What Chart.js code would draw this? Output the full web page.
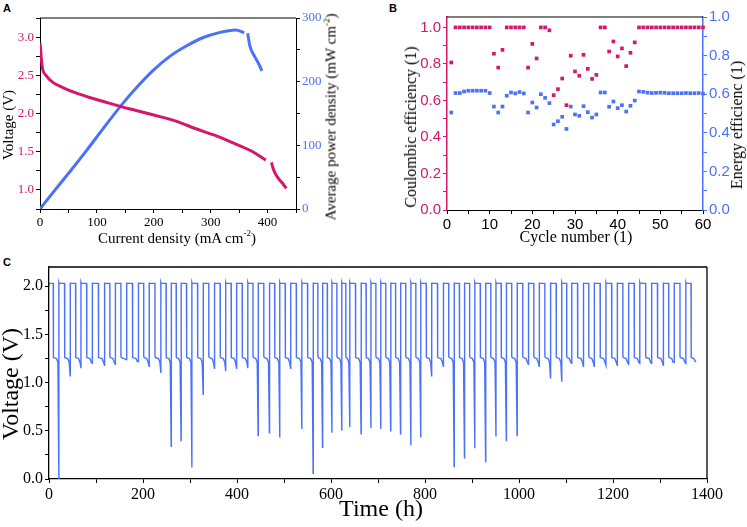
<!DOCTYPE html>
<html lang="en">
<head>
<meta charset="UTF-8">
<title>Cell performance</title>
<script src="https://cdn.jsdelivr.net/npm/chart.js"></script>
<style>
  body { margin: 0; background: #fff; width: 747px; height: 527px; position: relative; overflow: hidden;
         font-family: "Liberation Serif", "Times New Roman", serif; }
  .panel { position: absolute; }
  .lbl { position: absolute; font-family: "Liberation Sans", Arial, sans-serif; font-weight: bold; font-size: 11px; }
  .ttl { position: absolute; white-space: nowrap; color: #000; transform: translate(-50%, -50%); line-height: 1; }
  .rot { transform: translate(-50%, -50%) rotate(-90deg); }
  sup { font-size: 0.6em; line-height: 0; vertical-align: 0.7em; }
</style>
</head>
<body>
  <!-- Panel labels -->
  <div class="lbl" style="left:3px;top:2px">A</div>
  <div class="lbl" style="left:389px;top:2px">B</div>
  <div class="lbl" style="left:3px;top:256px">C</div>

  <!-- Chart containers -->
  <div class="panel" style="left:0;top:0;width:370px;height:255px"><canvas id="chartA"></canvas></div>
  <div class="panel" style="left:370px;top:0;width:377px;height:255px"><canvas id="chartB"></canvas></div>
  <div class="panel" style="left:0;top:255px;width:747px;height:272px"><canvas id="chartC"></canvas></div>

  <!-- Axis titles -->
  <div class="ttl rot" style="left:8px;top:125px;font-size:15px">Voltage (V)</div>
  <div class="ttl rot" style="left:331px;top:117px;font-size:15px">Average power density (mW cm<sup>-2</sup>)</div>
  <div class="ttl" style="left:177px;top:238px;font-size:15px">Current density (mA cm<sup>-2</sup>)</div>
  <div class="ttl rot" style="left:411px;top:127px;font-size:16px">Coulombic efficiency (1)</div>
  <div class="ttl rot" style="left:737px;top:125px;font-size:16px">Energy efficienc (1)</div>
  <div class="ttl" style="left:576px;top:237px;font-size:16px">Cycle number (1)</div>
  <div class="ttl rot" style="left:10px;top:384px;font-size:24px">Voltage (V)</div>
  <div class="ttl" style="left:381px;top:508px;font-size:24px">Time (h)</div>

<script>
// ---- Panel A: polarisation curve (null = gap in the trace)
const voltI = [0, 1, 2, 4.7, 10.5, 22, 40, 63, 87, 110, 142, 169, 200, 239, 274, 309, 344, 374, 397, 402, 407, 409, 412, 418, 426, 433];
const voltV = [2.92, 2.85, 2.74, 2.58, 2.50, 2.41, 2.34, 2.27, 2.21, 2.16, 2.09, 2.04, 1.98, 1.90, 1.80, 1.71, 1.60, 1.50, 1.39, null, 1.36, 1.30, 1.24, 1.16, 1.09, 1.02];
const powI = [0, 22, 51, 81, 110, 142, 169, 198, 227, 257, 286, 315, 344, 359, 362, 365, 369, 377, 385, 390];
const powP = [0, 25, 57, 91, 125, 162, 190, 217, 239, 256, 269, 277, 281, 277, null, 276, 256, 240, 227, 217];
const aXLabels = [0, 100, 200, 300, 400];
const aVLabels = [1.0, 1.5, 2.0, 2.5, 3.0];
const aPLabels = [0, 100, 200, 300];

// ---- Panel B: efficiencies per cycle
const cycles = [];
for (let c = 1; c <= 60; c++) cycles.push(c);
const coulombic = [0.808, 1, 1, 1, 1, 1, 1, 1, 1, 1,
  0.856, 0.78, 0.877, 1, 1, 1, 1, 1, 0.78, 0.91,
  0.83, 1, 1, 0.984, 0.629, 0.662, 0.72, 0.574, 0.845, 0.759,
  0.735, 0.85, 0.773, 0.718, 0.74, 1, 1, 0.868, 0.923, 0.841,
  0.885, 0.788, 0.861, 0.918, 1, 1, 1, 1, 1, 1,
  1, 1, 1, 1, 1, 1, 1, 1, 1, 1];
const energy = [0.505, 0.606, 0.606, 0.614, 0.618, 0.618, 0.618, 0.618, 0.618, 0.606,
  0.536, 0.505, 0.536, 0.592, 0.609, 0.604, 0.611, 0.604, 0.505, 0.557,
  0.531, 0.600, 0.581, 0.554, 0.443, 0.460, 0.483, 0.420, 0.536, 0.495,
  0.488, 0.538, 0.507, 0.479, 0.495, 0.609, 0.609, 0.535, 0.562, 0.528,
  0.543, 0.510, 0.540, 0.567, 0.614, 0.612, 0.608, 0.606, 0.607, 0.608,
  0.607, 0.605, 0.605, 0.605, 0.605, 0.606, 0.605, 0.605, 0.606, 0.603];
const bXLabels = [0, 10, 20, 30, 40, 50, 60];
const bYLabels = [0, 0.2, 0.4, 0.6, 0.8, 1.0];

// ---- Panel C: cycling, end time (h) and end-of-discharge voltage of each cycle
const cycleEnd = [21, 45, 68, 92, 118, 141, 165, 190, 213, 238,
  260, 281, 304, 328, 352, 376, 399, 423, 445, 469,
  491, 514, 538, 562, 582, 602, 623, 640, 664, 685,
  706, 727, 748, 770, 791, 814, 839, 862, 884, 906,
  929, 951, 973, 996, 1020, 1043, 1067, 1091, 1112, 1137,
  1160, 1185, 1209, 1233, 1257, 1282, 1307, 1330, 1355, 1377];
const cycleMinV = [0.00, 1.07, 1.15, 1.20, 1.18, 1.19, 1.24, 1.22, 1.17, 1.10,
  0.34, 0.40, 0.12, 0.88, 1.15, 1.12, 1.15, 1.15, 0.45, 0.48,
  0.43, 1.15, 0.52, 0.06, 0.33, 0.48, 0.50, 0.54, 0.47, 0.53,
  0.52, 0.50, 0.47, 0.35, 0.43, 1.07, 1.17, 0.13, 0.22, 0.32,
  0.18, 0.44, 0.40, 0.45, 1.19, 1.17, 1.05, 1.01, 1.20, 1.17,
  1.17, 1.18, 1.18, 1.19, 1.20, 1.20, 1.18, 1.21, 1.20, 1.22];
const chargeV = 2.03;
const dischargeV = 1.28;
const cXLabels = [0, 200, 400, 600, 800, 1000, 1200, 1400];
const cYLabels = [0.0, 0.5, 1.0, 1.5, 2.0];

const MAG = '#d4166f';
const BLUE = '#4a72f7';
const SERIF = '"Liberation Serif", "Times New Roman", serif';
const SANS = '"Liberation Sans", Arial, sans-serif';

Chart.defaults.font.family = SERIF;
Chart.defaults.color = '#000';
Chart.defaults.animation = false;

// major ticks plus minor marks halfway between them
function tickList(majors, min, max) {
  const half = (majors[1] - majors[0]) / 2;
  const list = [];
  for (let v = majors[0]; v >= min - 1e-9; v -= half) list.unshift(+v.toFixed(6));
  for (let v = majors[0] + half; v <= max + 1e-9; v += half) list.push(+v.toFixed(6));
  return list;
}

function makeAxis(o) {
  const all = tickList(o.labels, o.min, o.max);
  return {
    type: 'linear',
    position: o.position,
    min: o.min,
    max: o.max,
    afterBuildTicks: s => { s.ticks = all.map(v => ({ value: v })); },
    afterFit: s => {
      if (o.width) s.width = o.width;
      if (o.height) s.height = o.height;
    },
    ticks: {
      autoSkip: false,
      maxRotation: 0,
      padding: o.pad === undefined ? 2 : o.pad,
      color: o.labelColor || '#000',
      font: { family: o.sans ? SANS : SERIF, size: o.size },
      callback: v => o.labels.some(m => Math.abs(m - v) < 1e-6) ? v.toFixed(o.dec) : ''
    },
    grid: { drawOnChartArea: false, drawTicks: true, tickLength: 4, tickColor: o.tickColor || '#000', tickWidth: 1 },
    border: { display: true, color: o.lineColor || '#000', width: o.lineWidth || 1 }
  };
}

// draws the sides of the plot box that have no axis
const framePlugin = {
  id: 'frame',
  afterDraw(chart, args, opts) {
    const { ctx, chartArea: a } = chart;
    ctx.save();
    ctx.strokeStyle = '#000';
    ctx.lineWidth = opts.width || 1;
    ctx.beginPath();
    (opts.sides || []).forEach(s => {
      if (s === 'top') { ctx.moveTo(a.left, a.top); ctx.lineTo(a.right, a.top); }
      if (s === 'right') { ctx.moveTo(a.right, a.top); ctx.lineTo(a.right, a.bottom); }
    });
    ctx.stroke();
    ctx.restore();
  }
};

const basePlugins = { legend: { display: false }, tooltip: { enabled: false } };

// Panel A
new Chart(document.getElementById('chartA'), {
  type: 'scatter',
  data: {
    datasets: [{
      data: voltI.map((x, i) => ({ x, y: voltV[i] })),
      yAxisID: 'yV', showLine: true, borderColor: MAG, borderWidth: 3, pointRadius: 0,
      spanGaps: false, cubicInterpolationMode: 'monotone'
    }, {
      data: powI.map((x, i) => ({ x, y: powP[i] })),
      yAxisID: 'yP', showLine: true, borderColor: BLUE, borderWidth: 3, pointRadius: 0,
      spanGaps: false, cubicInterpolationMode: 'monotone'
    }]
  },
  options: {
    responsive: true, maintainAspectRatio: false,
    layout: { padding: { top: 18, left: 0, right: 0, bottom: 0 } },
    scales: {
      x: makeAxis({ position: 'bottom', labels: aXLabels, min: 0, max: 450, dec: 0, size: 13, height: 46 }),
      yV: makeAxis({ position: 'left', labels: aVLabels, min: 0.75, max: 3.25, dec: 1, size: 13, width: 40, labelColor: MAG }),
      yP: makeAxis({ position: 'right', labels: aPLabels, min: 0, max: 300, dec: 0, size: 13, width: 74, labelColor: BLUE })
    },
    plugins: { ...basePlugins, frame: { sides: ['top'] } }
  },
  plugins: [framePlugin]
});

// Panel B
new Chart(document.getElementById('chartB'), {
  type: 'scatter',
  data: {
    datasets: [{
      data: cycles.map((x, i) => ({ x, y: coulombic[i] })),
      yAxisID: 'yC', pointStyle: 'rect', pointRadius: 2.6, borderWidth: 0, backgroundColor: MAG, clip: false
    }, {
      data: cycles.map((x, i) => ({ x, y: energy[i] })),
      yAxisID: 'yE', pointStyle: 'rect', pointRadius: 2.6, borderWidth: 0, backgroundColor: BLUE, clip: false
    }]
  },
  options: {
    responsive: true, maintainAspectRatio: false,
    layout: { padding: { top: 17, left: 0, right: 0, bottom: 0 } },
    scales: {
      x: makeAxis({ position: 'bottom', labels: bXLabels, min: 0, max: 60, dec: 0, size: 15, sans: true, height: 45 }),
      yC: makeAxis({ position: 'left', labels: bYLabels, min: 0, max: 1.057, dec: 1, size: 15, sans: true, width: 77,
        labelColor: MAG, tickColor: MAG, lineColor: MAG, lineWidth: 1.5 }),
      yE: makeAxis({ position: 'right', labels: bYLabels, min: 0, max: 1.0, dec: 1, size: 15, sans: true, width: 44,
        labelColor: BLUE, tickColor: BLUE, lineColor: BLUE, lineWidth: 1.5 })
    },
    plugins: { ...basePlugins, frame: { sides: ['top'] } }
  },
  plugins: [framePlugin]
});

// Panel C: each cycle = flat charge, drop to the discharge plateau, fall to its end voltage
const cPoints = [];
cycleEnd.forEach((end, i) => {
  const start = i === 0 ? 0 : cycleEnd[i - 1];
  const mid = i === 0 ? 9 : (start + end) / 2;
  const vMin = cycleMinV[i];
  cPoints.push({ x: start, y: chargeV + 0.01 }, { x: start + 0.6, y: chargeV }, { x: mid, y: chargeV });
  cPoints.push({ x: mid, y: dischargeV }, { x: mid + 0.8, y: dischargeV - 0.02 });
  cPoints.push({ x: end - 5, y: 1.25 }, { x: end - 2, y: Math.max(vMin, 1.21) }, { x: end, y: vMin });
});

new Chart(document.getElementById('chartC'), {
  type: 'scatter',
  data: {
    datasets: [{
      data: cPoints,
      showLine: true, borderColor: BLUE, borderWidth: 1.4, pointRadius: 0
    }]
  },
  options: {
    responsive: true, maintainAspectRatio: false,
    layout: { padding: { top: 12, left: 0, right: 40, bottom: 0 } },
    scales: {
      x: makeAxis({ position: 'bottom', labels: cXLabels, min: 0, max: 1400, dec: 0, size: 16, height: 48, lineWidth: 1.3 }),
      y: makeAxis({ position: 'left', labels: cYLabels, min: 0, max: 2.2, dec: 1, size: 16, width: 49, lineWidth: 1.3 })
    },
    plugins: { ...basePlugins, frame: { sides: ['top', 'right'], width: 1.3 } }
  },
  plugins: [framePlugin]
});
</script>
</body>
</html>
